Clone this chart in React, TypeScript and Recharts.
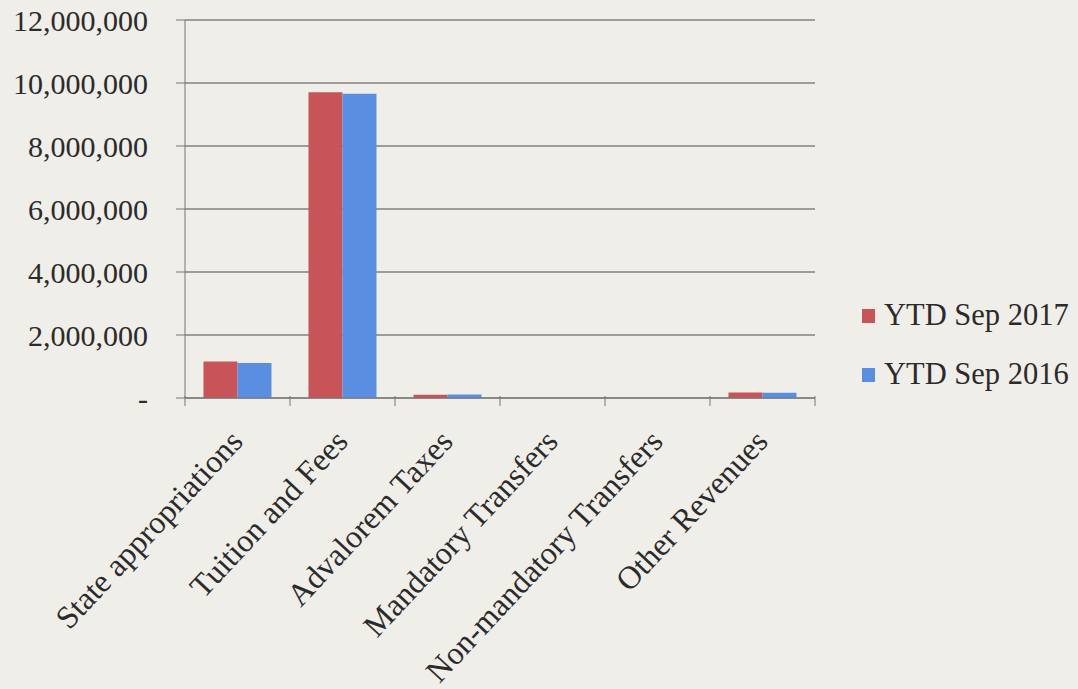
import { Bar, BarChart, CartesianGrid, XAxis, YAxis } from 'recharts';

// Revenue by source, YTD Sep 2017 vs YTD Sep 2016.

const CATEGORIES = [
  'State appropriations',
  'Tuition and Fees',
  'Advalorem Taxes',
  'Mandatory Transfers',
  'Non-mandatory Transfers',
  'Other Revenues',
];

const YTD_2017 = [1162000, 9710000, 105000, 0, 0, 178000];
const YTD_2016 = [1111000, 9660000, 110000, 0, 0, 170000];

const Y_TICKS = [0, 2000000, 4000000, 6000000, 8000000, 10000000, 12000000];

const SERIES = [
  { key: 'y2017', name: 'YTD Sep 2017', color: '#c65458' },
  { key: 'y2016', name: 'YTD Sep 2016', color: '#5a8ee0' },
];

const FONT = '"Liberation Serif", "Times New Roman", serif';
const INK = '#2b2b2b';
const BAND = 105; // category band width in px (plot 630 / 6)

const rows = CATEGORIES.map((c, i) => ({
  category: c,
  y2017: YTD_2017[i],
  y2016: YTD_2016[i],
}));

const fmt = (v: number) => (v === 0 ? '-' : v.toLocaleString('en-US'));

// Excel puts the tick marks between categories, so draw them here and keep
// the label rotated under the category centre.
function CategoryTick(props: any) {
  const { x, y, payload, index } = props;
  const half = BAND / 2;
  const tx = x + 7;
  const ty = y + 37;
  return (
    <g>
      <line x1={x - half} y1={y - 10} x2={x - half} y2={y} stroke="#777" />
      {index === CATEGORIES.length - 1 && (
        <line x1={x + half} y1={y - 10} x2={x + half} y2={y} stroke="#777" />
      )}
      <text
        x={tx}
        y={ty}
        transform={`rotate(-47, ${tx}, ${ty})`}
        textAnchor="end"
        fontFamily={FONT}
        fontSize={32}
        fill={INK}
      >
        {payload.value}
      </text>
    </g>
  );
}

function SideLegend() {
  return (
    <div
      style={{
        position: 'absolute',
        left: 862,
        top: 286,
        fontFamily: FONT,
        fontSize: 30.5,
        color: INK,
      }}
    >
      {SERIES.map((s) => (
        <div
          key={s.key}
          style={{ display: 'flex', alignItems: 'center', height: 59 }}
        >
          <span
            style={{
              width: 13,
              height: 14,
              background: s.color,
              marginRight: 9,
              display: 'inline-block',
            }}
          />
          {s.name}
        </div>
      ))}
    </div>
  );
}

export default function App() {
  return (
    <div
      style={{
        position: 'relative',
        width: 1078,
        height: 689,
        background: '#f0eee9',
        overflow: 'hidden',
      }}
    >
      <style>{'body{margin:0}'}</style>
      <BarChart
        width={1078}
        height={689}
        data={rows}
        margin={{ top: 20, right: 263, left: 0, bottom: 0 }}
        barCategoryGap="17.6%"
        barGap={0}
      >
        <CartesianGrid vertical={false} stroke="#4a4a4a" strokeWidth={1} />
        <XAxis
          dataKey="category"
          height={291}
          interval={0}
          stroke="#777"
          tickLine={false}
          tick={<CategoryTick />}
        />
        <YAxis
          width={185}
          domain={[0, 12000000]}
          ticks={Y_TICKS}
          tickFormatter={fmt}
          stroke="#777"
          tickSize={9}
          tickMargin={28}
          tick={{ fontFamily: FONT, fontSize: 30, fill: INK }}
        />
        {SERIES.map((s) => (
          <Bar
            key={s.key}
            dataKey={s.key}
            name={s.name}
            fill={s.color}
            isAnimationActive={false}
          />
        ))}
      </BarChart>
      <SideLegend />
    </div>
  );
}
